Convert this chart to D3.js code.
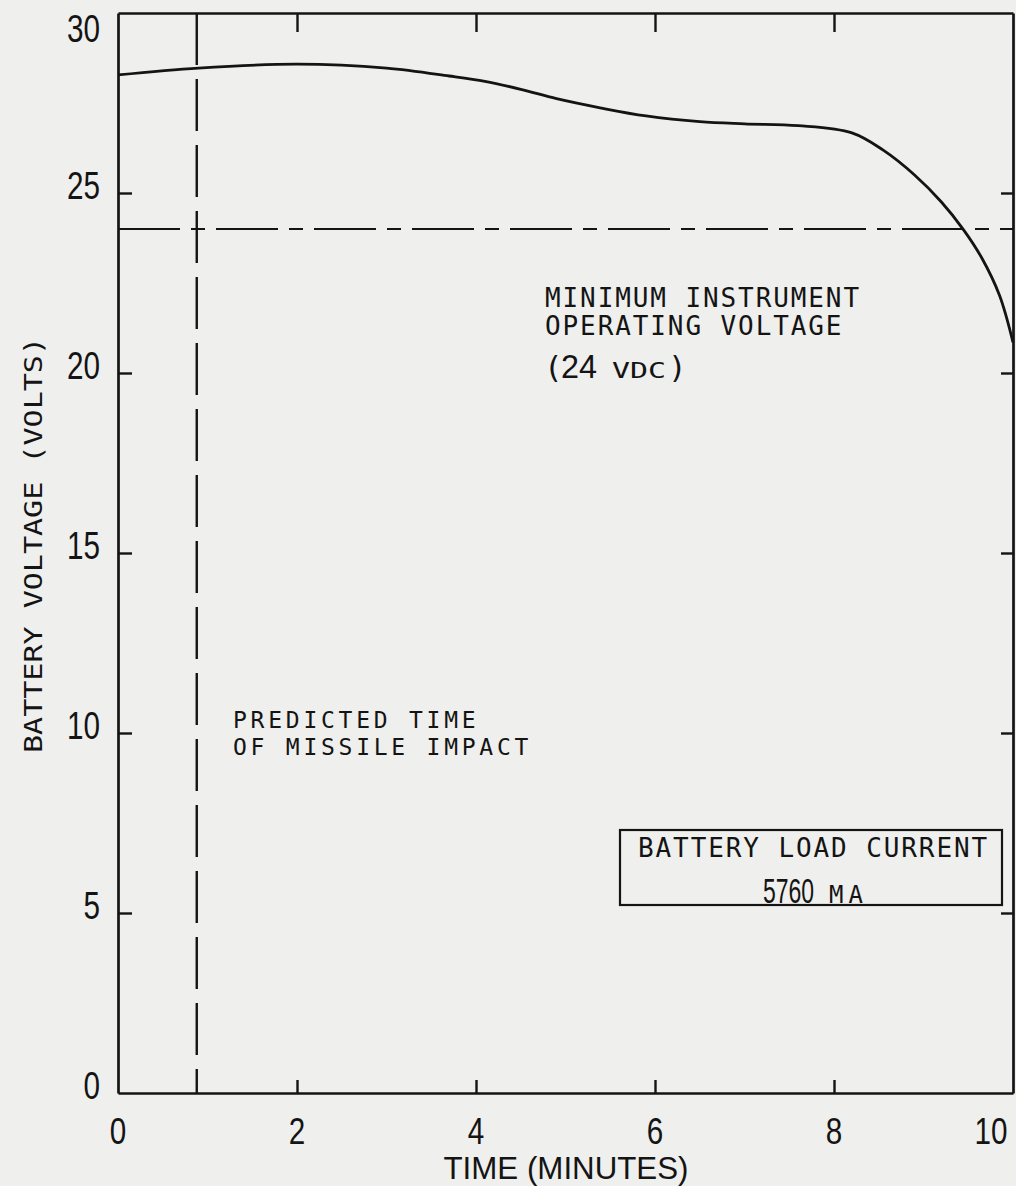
<!DOCTYPE html>
<html>
<head>
<meta charset="utf-8">
<script src="https://cdn.jsdelivr.net/npm/d3@7"></script>
<style>
  html, body { margin: 0; padding: 0; background: #efefed; }
  svg { display: block; }
</style>
</head>
<body>
<svg id="chart" width="1016" height="1186"></svg>
<script>
// ---- data ----
const timeMin = [0, 0.9, 2.0, 3.0, 3.7, 4.1, 4.5, 4.9, 5.4, 5.9, 6.5, 7.0, 7.6, 8.2, 8.55, 8.9, 9.2, 9.45, 9.65, 9.85, 10.0];
const voltage = [28.28, 28.47, 28.58, 28.47, 28.25, 28.1, 27.88, 27.62, 27.36, 27.14, 26.98, 26.92, 26.87, 26.67, 26.19, 25.5, 24.75, 23.97, 23.2, 22.15, 20.85];
const impactTime = 0.88;
const minVoltage = 24;
const xTickLabels = [0, 2, 4, 6, 8, 10];
const yTickLabels = [0, 5, 10, 15, 20, 25, 30];
const innerXTicks = [2, 4, 6, 8];
const innerYTicks = [5, 10, 15, 20, 25];
const xTitle = "TIME (MINUTES)";
const yTitle = "BATTERY VOLTAGE (VOLTS)";
const minLabel = ["MINIMUM INSTRUMENT", "OPERATING VOLTAGE"];
const impactLabel = ["PREDICTED TIME", "OF MISSILE IMPACT"];
const loadLabel = "BATTERY LOAD CURRENT";
const loadValue = "5760";
const loadUnit = "MA";

const ink = "#141414";
const mono = "'DejaVu Sans Mono', 'Liberation Mono', monospace";
const narrow = "'Liberation Sans Narrow', 'Liberation Sans', Arial, sans-serif";

const svg = d3.select("#chart");
svg.append("rect").attr("width", 1016).attr("height", 1186).attr("fill", "#efefed");

const x = d3.scaleLinear().domain([0, 10]).range([118, 1013]);
const y = d3.scaleLinear().domain([0, 30]).range([1093, 13]);

function styleAxis(g) {
  g.selectAll("path.domain").attr("stroke", ink).attr("stroke-width", 2.7);
  g.selectAll(".tick line").attr("stroke", ink).attr("stroke-width", 2.4);
  g.selectAll(".tick text").remove();
}

svg.append("g").attr("transform", `translate(0,${y(0)})`)
  .call(d3.axisBottom(x).tickValues(innerXTicks).tickSize(-13).tickSizeOuter(0).tickFormat(""))
  .call(styleAxis);
svg.append("g").attr("transform", `translate(0,${y(30)})`)
  .call(d3.axisTop(x).tickValues(innerXTicks).tickSize(-19).tickSizeOuter(0).tickFormat(""))
  .call(styleAxis);
svg.append("g").attr("transform", `translate(${x(0)},0)`)
  .call(d3.axisLeft(y).tickValues(innerYTicks).tickSize(-14).tickSizeOuter(0).tickFormat(""))
  .call(styleAxis);
svg.append("g").attr("transform", `translate(${x(10)},0)`)
  .call(d3.axisRight(y).tickValues(innerYTicks).tickSize(-12).tickSizeOuter(0).tickFormat(""))
  .call(styleAxis);

// tick labels
svg.append("g").selectAll("text").data(yTickLabels).join("text")
  .attr("x", 100).attr("y", d => Math.max(y(d) + 6, 42))
  .attr("text-anchor", "end")
  .attr("font-family", narrow).attr("font-size", 39).attr("fill", ink)
  .attr("textLength", d => String(d).length * 16.5).attr("lengthAdjust", "spacingAndGlyphs")
  .text(d => d);

svg.append("g").selectAll("text").data(xTickLabels).join("text")
  .attr("x", d => Math.min(x(d), 1016 - String(d).length * 10.5 - 4))
  .attr("y", 1144)
  .attr("text-anchor", "middle")
  .attr("font-family", narrow).attr("font-size", 37).attr("fill", ink)
  .attr("textLength", d => String(d).length * 16.5).attr("lengthAdjust", "spacingAndGlyphs")
  .text(d => d);

// axis titles
svg.append("text")
  .attr("x", 566).attr("y", 1179).attr("text-anchor", "middle")
  .attr("font-family", narrow).attr("font-size", 31).attr("fill", ink)
  .attr("textLength", 245).attr("lengthAdjust", "spacingAndGlyphs")
  .text(xTitle);

svg.append("text")
  .attr("transform", "translate(42,545) rotate(-90)")
  .attr("text-anchor", "middle")
  .attr("font-family", mono).attr("font-size", 24).attr("fill", ink)
  .attr("textLength", 416).attr("lengthAdjust", "spacingAndGlyphs")
  .text(yTitle);

// reference lines
svg.append("line")
  .attr("x1", x(impactTime)).attr("x2", x(impactTime))
  .attr("y1", y(30)).attr("y2", y(0))
  .attr("stroke", ink).attr("stroke-width", 2.4)
  .attr("stroke-dasharray", "52,14");

svg.append("line")
  .attr("x1", x(0)).attr("x2", x(10))
  .attr("y1", y(minVoltage)).attr("y2", y(minVoltage))
  .attr("stroke", ink).attr("stroke-width", 2.2)
  .attr("stroke-dasharray", "62,11,14,11");

// voltage curve
const pts = timeMin.map((t, i) => [t, voltage[i]]);
svg.append("path")
  .datum(pts)
  .attr("fill", "none").attr("stroke", ink).attr("stroke-width", 2.8)
  .attr("d", d3.line().x(d => x(d[0])).y(d => y(d[1])).curve(d3.curveCatmullRom.alpha(0.5)));

// annotations
const monoText = (xx, yy, s, fs = 26, ls = 1.9) => svg.append("text")
  .attr("x", xx).attr("y", yy)
  .attr("font-family", mono).attr("font-size", fs).attr("letter-spacing", ls)
  .attr("fill", ink).text(s);

monoText(545, 307, minLabel[0]);
monoText(545, 335, minLabel[1]);
const l3 = svg.append("text").attr("y", 378).attr("fill", ink);
l3.append("tspan").attr("x", 544).attr("font-family", mono).attr("font-size", 31).text("(");
l3.append("tspan").attr("x", 561).attr("font-family", narrow).attr("font-size", 34)
  .attr("textLength", 36).attr("lengthAdjust", "spacingAndGlyphs").text("24");
l3.append("tspan").attr("x", 612).attr("font-family", mono).attr("font-size", 22)
  .attr("textLength", 54).attr("lengthAdjust", "spacingAndGlyphs").text("VDC");
l3.append("tspan").attr("x", 668).attr("font-family", mono).attr("font-size", 31).text(")");

monoText(233, 728, impactLabel[0], 23, 3.75);
monoText(233, 755, impactLabel[1], 23, 3.75);

// load current box
svg.append("rect")
  .attr("x", 620).attr("y", 830).attr("width", 382).attr("height", 75)
  .attr("fill", "none").attr("stroke", ink).attr("stroke-width", 2.2);
monoText(638, 857, loadLabel);
svg.append("text")
  .attr("transform", "translate(763,903) scale(1,1.55)")
  .attr("font-family", "'Liberation Sans', Arial, sans-serif").attr("font-size", 23)
  .attr("fill", ink).text(loadValue);
svg.append("text")
  .attr("x", 829).attr("y", 903)
  .attr("font-family", mono).attr("font-size", 24).attr("letter-spacing", 5)
  .attr("fill", ink).text(loadUnit);
</script>
</body>
</html>
